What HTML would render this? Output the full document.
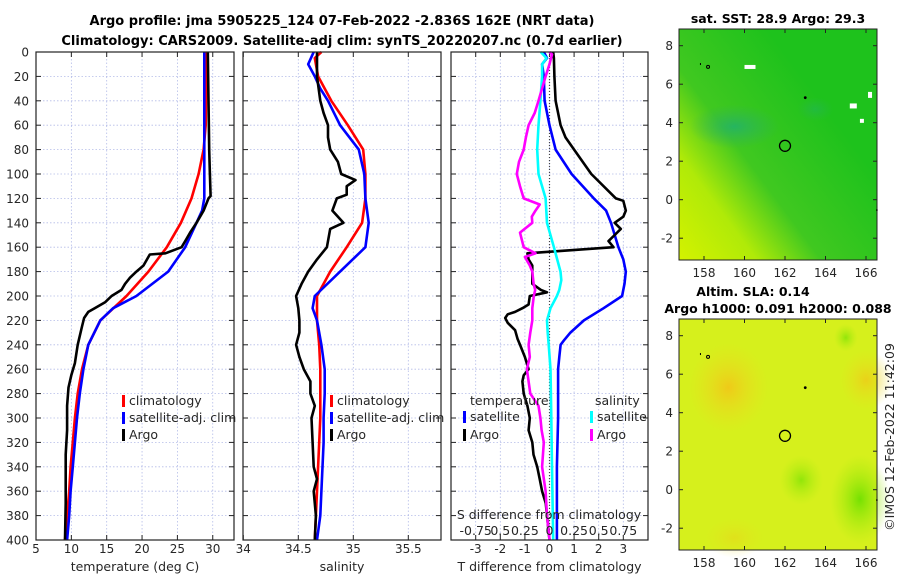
<!DOCTYPE html>
<html><head><meta charset="utf-8"><style>
html,body{margin:0;padding:0;background:#fff;}
svg{display:block;font-family:"DejaVu Sans","Liberation Sans",sans-serif;}
</style></head><body>
<svg id="chart" width="900" height="580" viewBox="0 0 900 580" xmlns="http://www.w3.org/2000/svg">
<defs>
<linearGradient id="sstGrad" x1="0" y1="1" x2="0.75" y2="0.35">
<stop offset="0" stop-color="#d4f200"/><stop offset="0.3" stop-color="#b0ea08"/><stop offset="0.55" stop-color="#40c820"/><stop offset="1" stop-color="#1ec21c"/>
</linearGradient>
<radialGradient id="blueBlob"><stop offset="0" stop-color="#20b070" stop-opacity="0.8"/><stop offset="1" stop-color="#30b060" stop-opacity="0"/></radialGradient>
<radialGradient id="orangeBlob"><stop offset="0" stop-color="#f0c818" stop-opacity="0.95"/><stop offset="1" stop-color="#e8e020" stop-opacity="0"/></radialGradient>
<radialGradient id="greenBlob"><stop offset="0" stop-color="#70e000" stop-opacity="0.95"/><stop offset="1" stop-color="#a8ec10" stop-opacity="0"/></radialGradient>
</defs>
<g font-weight="bold" font-size="13" text-anchor="middle">
<text x="342" y="25">Argo profile: jma 5905225_124 07-Feb-2022 -2.836S 162E (NRT data)</text>
<text x="342" y="45">Climatology: CARS2009. Satellite-adj clim: synTS_20220207.nc (0.7d earlier)</text>
</g>
<g id="plots"></g>
</svg>
<script>
// ---- depth axis (shared) ----
const depthTicks = [0,20,40,60,80,100,120,140,160,180,200,220,240,260,280,300,320,340,360,380,400];
// ---- temperature panel ----
const tTicks = [5,10,15,20,25,30];
const tClimDepth = [0,60,80,100,120,140,160,180,200,220,240,260,280,300,320,340,360,380,400];
const tClim = [29.15,29.0,28.7,28.0,27.0,25.5,23.5,20.9,17.8,14.1,12.4,11.5,10.9,10.5,10.2,9.9,9.7,9.4,9.1];
const tSatDepth = [0,100,120,130,140,160,180,200,210,220,240,260,280,300,320,340,360,380,400];
const tSat = [28.8,28.8,28.8,28.5,27.7,26.1,23.7,19.2,15.9,14.1,12.4,11.7,11.2,10.8,10.5,10.2,9.9,9.7,9.4];
const tArgoDepth = [0,40,80,100,118,120,130,140,148,155,160,165,166,170,175,180,185,190,195,200,205,210,213,218,225,240,255,265,275,290,310,330,350,370,400];
const tArgo = [29.3,29.4,29.5,29.6,29.7,29.4,28.7,27.7,26.8,26.1,25.6,23.3,21.1,20.7,20.2,19.2,18.3,17.6,17.1,15.7,14.8,13.3,12.4,11.8,11.5,10.9,10.5,10.0,9.6,9.4,9.4,9.2,9.2,9.2,9.1];
// ---- salinity panel ----
const sTicks = [34,34.5,35,35.5];
const sClimDepth = [0,5,20,40,60,80,100,120,140,160,180,200,220,240,260,280,300,320,340,360,380,400];
const sClim = [34.71,34.65,34.68,34.80,34.95,35.09,35.11,35.11,35.08,34.94,34.79,34.67,34.67,34.69,34.70,34.70,34.70,34.69,34.68,34.67,34.66,34.65];
const sSatDepth = [0,10,20,30,40,60,80,100,120,140,160,180,200,210,220,240,260,280,300,320,340,360,380,400];
const sSat = [34.64,34.59,34.65,34.70,34.77,34.88,35.05,35.10,35.11,35.14,35.11,34.88,34.65,34.63,34.67,34.71,34.74,34.74,34.73,34.73,34.72,34.71,34.70,34.67];
const sArgoDepth = [0,20,40,50,60,70,80,90,100,105,110,117,120,130,140,145,160,170,180,190,200,210,220,230,240,250,260,270,280,290,300,320,340,350,360,380,400];
const sArgo = [34.67,34.67,34.70,34.73,34.77,34.77,34.79,34.86,34.89,35.02,34.94,34.94,34.85,34.81,34.91,34.79,34.76,34.67,34.59,34.53,34.48,34.50,34.51,34.51,34.48,34.51,34.55,34.61,34.61,34.65,34.62,34.63,34.64,34.67,34.64,34.66,34.65];
// ---- difference panel ----
const dTTicks = [-3,-2,-1,0,1,2,3];
const dSTicks = [-0.75,-0.5,-0.25,0,0.25,0.5,0.75];
const dSTickLabels = ["-0.75","0.5","0.25","0","0.25","0.5","0.75"];
const dTArgoDepth = [0,5,20,40,60,70,80,100,120,122,130,135,140,145,150,155,160,165,170,175,180,190,195,197,200,207,210,213,215,218,222,228,235,240,250,260,265,270,280,290,300,310,320,330,340,350,360,370,380,400];
const dTArgo = [0.15,0.18,0.2,0.25,0.45,0.65,1.0,1.7,2.7,3.0,3.1,3.0,2.65,2.9,2.65,2.4,2.6,-0.9,-0.85,-0.7,-0.7,-0.7,-0.35,-0.1,-0.8,-0.85,-1.1,-1.4,-1.7,-1.8,-1.7,-1.4,-1.3,-1.2,-1.0,-0.85,-1.05,-1.1,-1.05,-0.9,-0.8,-0.85,-0.7,-0.65,-0.5,-0.4,-0.3,-0.15,-0.1,0];
const dTSatDepth = [0,5,10,20,40,60,80,100,120,130,140,160,170,180,190,200,210,220,230,236,240,250,260,300,340,400];
const dTSat = [-0.23,-0.1,-0.3,-0.23,-0.2,0,0.25,0.9,1.8,2.3,2.5,2.8,3.0,3.1,3.05,2.95,2.2,1.4,0.85,0.6,0.45,0.4,0.35,0.35,0.3,0.3];
const dSSatDepth = [0,5,10,20,40,60,80,100,120,140,160,180,187,195,200,210,220,230,240,260,300,340,400];
const dSSat = [-0.088,-0.03,-0.075,-0.075,-0.092,-0.112,-0.125,-0.112,-0.04,-0.025,0.045,0.112,0.12,0.1,0.075,0.01,-0.025,-0.018,-0.008,0.01,0.018,0.025,0.038];
const dSArgoDepth = [0,2,10,20,40,50,60,70,80,90,100,110,120,125,130,135,140,148,160,165,168,175,180,190,195,200,210,220,230,240,250,260,270,280,290,300,310,320,340,360,380,400];
const dSArgo = [0,0.025,0,-0.04,-0.112,-0.15,-0.212,-0.24,-0.262,-0.31,-0.332,-0.3,-0.262,-0.1,-0.142,-0.18,-0.175,-0.3,-0.262,-0.142,-0.25,-0.2,-0.175,-0.162,-0.145,-0.16,-0.175,-0.175,-0.195,-0.212,-0.2,-0.23,-0.212,-0.195,-0.112,-0.092,-0.08,-0.058,-0.075,-0.04,-0.025,0];
// ---- maps ----
const mapLonTicks = [158,160,162,164,166];
const mapLatTicks = [-2,0,2,4,6,8];
const argoLon = 162, argoLat = 2.8;

const NS='http://www.w3.org/2000/svg';
const root=document.getElementById('plots');
function mk(tag,attrs,parent){const e=document.createElementNS(NS,tag);for(const k in attrs)e.setAttribute(k,attrs[k]);(parent||root).appendChild(e);return e;}
function txt(s,attrs,parent){const e=mk('text',attrs,parent);e.textContent=s;return e;}

const Y0=52, Y1=540;
const yD=d=>Y0+d*(Y1-Y0)/400;

function panel(name,x0,x1,xs,xticks,xlabels,title){
  const g=mk('g',{});
  
  
  xticks.forEach(v=>{const x=xs(v);if(x>x0+1&&x<x1-1){const l=mk('line',{x1:x,x2:x,y1:Y0,y2:Y1,stroke:'#b4bce8','stroke-dasharray':'1.5,2','stroke-width':0.8},g);}});
  depthTicks.forEach(d=>{const y=yD(d);if(d>0&&d<400){const l=mk('line',{x1:x0,x2:x1,y1:y,y2:y,stroke:'#b4bce8','stroke-dasharray':'1.5,2','stroke-width':0.8},g);}});
  depthTicks.forEach(d=>{const y=yD(d);mk('line',{x1:x0,x2:x0+5,y1:y,y2:y,stroke:'#222'},g);mk('line',{x1:x1-5,x2:x1,y1:y,y2:y,stroke:'#222'},g);});
  xticks.forEach(v=>{const x=xs(v);mk('line',{x1:x,x2:x,y1:Y0,y2:Y0+5,stroke:'#222'},g);mk('line',{x1:x,x2:x,y1:Y1-5,y2:Y1,stroke:'#222'},g);});
  if(xlabels) xticks.forEach((v,i)=>{const t=txt(xlabels[i],{x:xs(v),y:553,'font-size':12,'text-anchor':'middle',fill:'#262626'},g);});
  const at=txt(title,{x:(x0+x1)/2,y:571,'font-size':12.5,'text-anchor':'middle',fill:'#262626'},g);
  
  
  return g;
}
function frame(g,x0,x1){const r=mk('rect',{x:x0,y:Y0,width:x1-x0,height:Y1-Y0,fill:'none',stroke:'#222','stroke-width':1.2},g);}
function line(g,xs,vals,depths,color,name){
  const pts=vals.map((v,i)=>xs(v).toFixed(1)+','+yD(depths[i]).toFixed(1)).join(' ');
  const p=mk('polyline',{points:pts,fill:'none',stroke:color,'stroke-width':2.6,'stroke-linejoin':'round'},g);
  
  
}
function legendEntry(g,x,y,color,label){
  const e=mk('g',{},g);
  
  
  mk('rect',{x:x,y:y-10,width:3,height:12,fill:color},e);
  txt(label,{x:x+7,y:y,'font-size':12.5,fill:'#262626'},e);
}

depthTicks.forEach(d=>{const t=txt(String(d),{x:29,y:yD(d)+4.5,'font-size':12,'text-anchor':'end',fill:'#262626'});});

const xT=v=>36+(v-5)*7.07;
const g1=panel('temperature-panel',36,234,xT,tTicks,tTicks.map(String),'temperature (deg C)');
line(g1,xT,tClim,tClimDepth,'#ff0000','temp-climatology-line');
line(g1,xT,tSat,tSatDepth,'#0000ff','temp-satellite-line');
line(g1,xT,tArgo,tArgoDepth,'#000000','temp-argo-line');
frame(g1,36,234);
legendEntry(g1,122,405,'#ff0000','climatology');
legendEntry(g1,122,422,'#0000ff','satellite-adj. clim');
legendEntry(g1,122,439,'#000000','Argo');

const xS=v=>243.3+(v-34)*110;
const g2=panel('salinity-panel',243,441,xS,sTicks,sTicks.map(String),'salinity');
line(g2,xS,sClim,sClimDepth,'#ff0000','sal-climatology-line');
line(g2,xS,sSat,sSatDepth,'#0000ff','sal-satellite-line');
line(g2,xS,sArgo,sArgoDepth,'#000000','sal-argo-line');
frame(g2,243,441);
legendEntry(g2,330,405,'#ff0000','climatology');
legendEntry(g2,330,422,'#0000ff','satellite-adj. clim');
legendEntry(g2,330,439,'#000000','Argo');

const xDT=v=>549.5+v*24.6;
const xDS=v=>549.5+v*4*24.6;
const g3=panel('difference-panel',451,648,xDT,dTTicks,dTTicks.map(String),'T difference from climatology');
mk('line',{x1:xDT(0),x2:xDT(0),y1:Y0,y2:Y1,stroke:'#444','stroke-dasharray':'1,2','stroke-width':1.2},g3);
line(g3,xDT,dTSat,dTSatDepth,'#0000ff','tdiff-satellite-line');
line(g3,xDT,dTArgo,dTArgoDepth,'#000000','tdiff-argo-line');
line(g3,xDS,dSSat,dSSatDepth,'#00ffff','sdiff-satellite-line');
line(g3,xDS,dSArgo,dSArgoDepth,'#ff00ff','sdiff-argo-line');
frame(g3,451,648);
const st=txt('S difference from climatology',{x:549,y:519,'font-size':12.5,'text-anchor':'middle',fill:'#262626'},g3);


dSTicks.forEach((v,i)=>{const t=txt(dSTickLabels[i],{x:xDS(v),y:535,'font-size':12.5,'text-anchor':'middle',fill:'#262626'},g3);});
const lt=txt('temperature',{x:470,y:405,'font-size':12.5,fill:'#262626'},g3);


const ls=txt('salinity',{x:595,y:405,'font-size':12.5,fill:'#262626'},g3);


legendEntry(g3,463,421,'#0000ff','satellite');
legendEntry(g3,463,439,'#000000','Argo');
legendEntry(g3,590,421,'#00ffff','satellite');
legendEntry(g3,590,439,'#ff00ff','Argo');

const lonX=l=>704+(l-158)*20.25;
function mapPanel(name,top,bottom,lat8,title,kind){
  const g=mk('g',{});
  
  
  const latY=l=>lat8+(8-l)*19.25;
  if(kind==='sst'){
    mk('rect',{x:679,y:top,width:198,height:bottom-top,fill:'url(#sstGrad)'},g);
    mk('ellipse',{cx:lonX(159.5),cy:latY(3.8),rx:45,ry:22,fill:'url(#blueBlob)'},g);
    mk('ellipse',{cx:lonX(163.5),cy:latY(4.7),rx:18,ry:12,fill:'url(#blueBlob)','opacity':0.5},g);
    mk('rect',{x:lonX(160),y:latY(7),width:11,height:4,fill:'#fff'},g);
    mk('rect',{x:lonX(165.2),y:latY(5),width:7,height:5,fill:'#fff'},g);
    mk('rect',{x:lonX(166.1),y:latY(5.6),width:4,height:6,fill:'#fff'},g);
    mk('rect',{x:lonX(165.7),y:latY(4.2),width:4,height:4,fill:'#fff'},g);
  } else {
    mk('rect',{x:679,y:top,width:198,height:bottom-top,fill:'#d6f01c'},g);
    mk('ellipse',{cx:lonX(159.2),cy:latY(5.3),rx:40,ry:45,fill:'url(#orangeBlob)'},g);
    mk('ellipse',{cx:lonX(166),cy:latY(5.7),rx:26,ry:30,fill:'url(#orangeBlob)','opacity':0.8},g);
    mk('ellipse',{cx:lonX(159.5),cy:latY(-2.5),rx:30,ry:20,fill:'url(#orangeBlob)','opacity':0.4},g);
    mk('ellipse',{cx:lonX(165.7),cy:latY(-0.5),rx:30,ry:45,fill:'url(#greenBlob)'},g);
    mk('ellipse',{cx:lonX(162.8),cy:latY(0.5),rx:22,ry:25,fill:'url(#greenBlob)','opacity':0.7},g);
    mk('ellipse',{cx:lonX(165),cy:latY(7.9),rx:12,ry:14,fill:'url(#greenBlob)','opacity':0.7},g);
  }
  const fr=mk('rect',{x:679,y:top,width:198,height:bottom-top,fill:'none',stroke:'#222','stroke-width':1},g);
  
  
  mapLatTicks.forEach(l=>{const y=latY(l);mk('line',{x1:877,x2:873,y1:y,y2:y,stroke:'#222'},g);mk('line',{x1:679,x2:683,y1:y,y2:y,stroke:'#222'},g);
    const t=txt(String(l),{x:673,y:y+4.5,'font-size':12,'text-anchor':'end',fill:'#262626'},g);});
  mapLonTicks.forEach(l=>{const x=lonX(l);mk('line',{x1:x,x2:x,y1:bottom,y2:bottom-4,stroke:'#222'},g);mk('line',{x1:x,x2:x,y1:top,y2:top+4,stroke:'#222'},g);
    const t=txt(String(l),{x:x,y:bottom+17,'font-size':12,'text-anchor':'middle',fill:'#262626'},g);});
  const c=mk('circle',{cx:lonX(argoLon),cy:latY(argoLat),r:5.5,fill:'none',stroke:'#000','stroke-width':1.3},g);
  
  
  mk('circle',{cx:lonX(158.2),cy:latY(6.9),r:1.5,fill:'none',stroke:'#000'},g);
  mk('rect',{x:lonX(157.8),y:latY(7.1),width:1,height:2,fill:'#000'},g);
  mk('circle',{cx:lonX(163),cy:latY(5.3),r:1.4,fill:'#000'},g);
  mk('rect',{x:lonX(166.5),y:latY(-0.5),width:1.5,height:1.5,fill:'#000'},g);
  title.forEach((s,i)=>{const t=txt(s,{x:s.startsWith('Altim')?753:778,y:top-6-(title.length-1-i)*17,'font-size':12.5,'font-weight':'bold','text-anchor':'middle'},g);});
}
mapPanel('sst-map',29,260,45.7,['sat. SST: 28.9 Argo: 29.3'],'sst');
mapPanel('sla-map',319,550,335.7,['Altim. SLA: 0.14','Argo h1000: 0.091 h2000: 0.088'],'sla');
const cr=txt('©IMOS 12-Feb-2022 11:42:09',{x:0,y:0,'font-size':12.5,'text-anchor':'middle',fill:'#262626',transform:'translate(894,437) rotate(-90)'});


</script>
</body></html>
